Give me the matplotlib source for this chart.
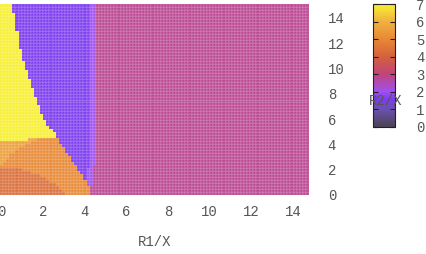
import numpy as np
import matplotlib
matplotlib.use("Agg")
import matplotlib.pyplot as plt
from matplotlib.colors import LinearSegmentedColormap

# palette (value -> colour)
cb_values = [0, 1, 1.6, 2, 3, 4, 5, 6, 7]
cb_colors = ['#4c4452', '#6a50b0', '#7c3cf0', '#a050f0', '#c0447c',
             '#d4603c', '#e88834', '#f0b040', '#f8f030']

# region levels (R2/X)
v_yellow = 7.0
v_light_orange = 5.6
v_orange = 5.0
v_dark_orange = 4.35
v_purple = 1.6
v_strip = 2.0
v_pink = 2.82

# boundary between yellow and purple: x as function of y
yp_y = [4.57, 4.96, 6.0, 7.56, 11.5, 13.9, 15.1]
yp_x = [2.67, 2.48, 2.05, 1.67, 0.90, 0.66, 0.51]

# bottom of yellow region: y as function of x
yb_x = [0.0, 0.9, 1.86, 2.58, 2.8]
yb_y = [4.25, 4.33, 4.41, 4.49, 4.55]

# orange / purple edge: x as function of y
op_y = [0.0, 1.02, 4.72]
op_x = [4.26, 4.11, 2.58]

# purple / pink edge: x as function of y
pp_y = [0.0, 0.5, 2.8, 15.1]
pp_x = [4.26, 4.30, 4.50, 4.55]

# lighter orange crescent lower edge
lo_x = [0.0, 0.5, 1.0, 1.5, 2.0]
lo_y = [2.3, 3.3, 3.8, 4.2, 4.5]

# darker orange lower-left region top edge
do_x = [0.0, 0.9, 1.86, 2.58, 3.1]
do_y = [2.2, 2.1, 1.5, 0.87, 0.0]

xmin, xmax = -0.06, 14.77
ymin, ymax = 0.0, 15.1
nx, ny = 100, 64

xe = np.linspace(xmin, xmax, nx + 1)
ye = np.linspace(ymin, ymax, ny + 1)
xc = 0.5 * (xe[:-1] + xe[1:])
yc = 0.5 * (ye[:-1] + ye[1:])
X, Y = np.meshgrid(xc, yc)

Z = np.full(X.shape, v_pink)
edge_pp = np.interp(Y, pp_y, pp_x)
edge_yp = np.interp(Y, yp_y, yp_x)
edge_op = np.interp(Y, op_y, op_x)
top_orange = np.interp(X, yb_x, yb_y)

purple = X < edge_pp
Z[purple] = v_purple
Z[purple & (X > edge_pp - 0.28)] = v_strip
Z[(X < edge_yp) & (Y >= top_orange)] = v_yellow
orange = (Y < top_orange) & (X < edge_op) & (X < edge_pp)
Z[orange] = v_orange
Z[orange & (Y > np.interp(X, lo_x, lo_y))] = v_light_orange
Z[orange & (Y < np.interp(X, do_x, do_y)) & (X < 3.1)] = v_dark_orange

cmap = LinearSegmentedColormap.from_list(
    'gp', [(v / 7.0, c) for v, c in zip(cb_values, cb_colors)])

fig = plt.figure(figsize=(4.26, 2.54), dpi=100)
W, H = 426, 254
ax = fig.add_axes([0 / W, 1 - 195 / H, 309 / W, 191 / H])
mesh = ax.pcolormesh(xe, ye, Z, cmap=cmap, vmin=0, vmax=7,
                     edgecolors=(1, 1, 1, 0.10), linewidth=0.3)
ax.set_xlim(xmin, xmax)
ax.set_ylim(ymin, ymax)
for s in ax.spines.values():
    s.set_visible(False)

font = dict(family='Liberation Mono', size=10, color='#555555')
ax.set_xticks(range(0, 15, 2))
ax.set_yticks(range(0, 15, 2))
ax.tick_params(axis='x', length=0, pad=7, labelsize=10, labelcolor='#555555')
ax.tick_params(axis='y', length=0, pad=13.5, labelsize=10, labelcolor='#555555',
               left=False, labelleft=False, labelright=True)
for lab in ax.get_xticklabels() + ax.get_yticklabels():
    lab.set_family('Liberation Mono')
for lab in ax.get_yticklabels():
    lab.set_horizontalalignment('left')

fig.text(155 / W, 1 - 242 / H, 'R1/X', ha='center', va='center', **font)

cax = fig.add_axes([373 / W, 1 - 127 / H, 22 / W, 123 / H])
cb = fig.colorbar(mesh, cax=cax)
cb.set_ticks(range(0, 8))
cb.outline.set_edgecolor('#222222')
cb.outline.set_linewidth(0.8)
cax.tick_params(left=True, right=True, direction='in', length=3.5, width=0.8,
                color='#222222', pad=15, labelsize=10, labelcolor='#555555')
for lab in cax.get_yticklabels():
    lab.set_family('Liberation Mono')

fig.text(386 / W, 1 - 101 / H, 'R2/X', ha='center', va='center', **font)

fig.savefig('out.png', dpi=100)
